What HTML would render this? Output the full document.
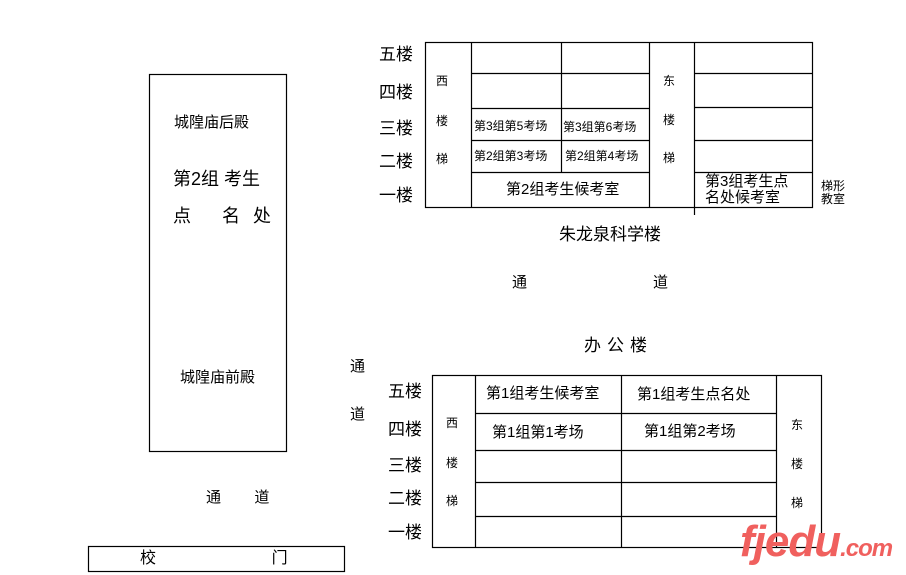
<!DOCTYPE html>
<html><head><meta charset="utf-8"><style>
body{margin:0;width:906px;height:575px;background:#fff;position:relative;overflow:hidden;font-family:"Liberation Sans","Noto Sans CJK SC",sans-serif;color:#000}
.t{position:absolute;white-space:nowrap;line-height:1}
svg{position:absolute;left:0;top:0}
</style></head><body>
<svg width="906" height="575" stroke="#000" stroke-width="1.2" fill="none">
<rect x="149.5" y="74.5" width="137" height="377"/>
<rect x="88.5" y="546.5" width="256" height="25"/>
<rect x="425.5" y="42.5" width="387" height="165"/>
<line x1="471.5" y1="42" x2="471.5" y2="207"/>
<line x1="561.5" y1="42" x2="561.5" y2="172"/>
<line x1="649.5" y1="42" x2="649.5" y2="207"/>
<line x1="694.5" y1="42" x2="694.5" y2="215"/>
<line x1="471" y1="73.5" x2="649" y2="73.5"/>
<line x1="471" y1="108.5" x2="649" y2="108.5"/>
<line x1="471" y1="140.5" x2="649" y2="140.5"/>
<line x1="471" y1="172.5" x2="649" y2="172.5"/>
<line x1="694" y1="73.5" x2="812" y2="73.5"/>
<line x1="694" y1="107.5" x2="812" y2="107.5"/>
<line x1="694" y1="140.5" x2="812" y2="140.5"/>
<line x1="694" y1="172.5" x2="812" y2="172.5"/>
<rect x="432.5" y="375.5" width="389" height="172"/>
<line x1="475.5" y1="375" x2="475.5" y2="547"/>
<line x1="621.5" y1="375" x2="621.5" y2="547"/>
<line x1="776.5" y1="375" x2="776.5" y2="547"/>
<line x1="475" y1="413.5" x2="776" y2="413.5"/>
<line x1="475" y1="450.5" x2="776" y2="450.5"/>
<line x1="475" y1="482.5" x2="776" y2="482.5"/>
<line x1="475" y1="516.5" x2="776" y2="516.5"/>
</svg>
<div class="t" style="left:174px;top:115px;font-size:15px">城隍庙后殿</div>
<div class="t" style="left:173px;top:170px;font-size:18px">第2组 考生</div>
<div class="t" style="left:173px;top:207px;font-size:18px;letter-spacing:4px">点&nbsp;&nbsp; 名 处</div>
<div class="t" style="left:180px;top:370px;font-size:15px">城隍庙前殿</div>
<div class="t" style="left:206px;top:490px;font-size:15px">通&nbsp;&nbsp;&nbsp;&nbsp;&nbsp;&nbsp;&nbsp; 道</div>
<div class="t" style="left:140px;top:551px;font-size:16px">校&nbsp;&nbsp;&nbsp;&nbsp;&nbsp;&nbsp;&nbsp;&nbsp;&nbsp;&nbsp;&nbsp;&nbsp;&nbsp;&nbsp;&nbsp;&nbsp;&nbsp;&nbsp;&nbsp;&nbsp;&nbsp;&nbsp;&nbsp;&nbsp;&nbsp; 门</div>
<div class="t" style="left:350px;top:359px;font-size:15px">通</div>
<div class="t" style="left:350px;top:407px;font-size:15px">道</div>
<div class="t" style="left:379px;top:46px;font-size:17px">五楼</div>
<div class="t" style="left:379px;top:84px;font-size:17px">四楼</div>
<div class="t" style="left:379px;top:120px;font-size:17px">三楼</div>
<div class="t" style="left:379px;top:153px;font-size:17px">二楼</div>
<div class="t" style="left:379px;top:187px;font-size:17px">一楼</div>
<div class="t" style="left:436px;top:75px;font-size:12px">西</div>
<div class="t" style="left:436px;top:115px;font-size:12px">楼</div>
<div class="t" style="left:436px;top:153px;font-size:12px">梯</div>
<div class="t" style="left:663px;top:75px;font-size:12px">东</div>
<div class="t" style="left:663px;top:114px;font-size:12px">楼</div>
<div class="t" style="left:663px;top:152px;font-size:12px">梯</div>
<div class="t" style="left:474px;top:120px;font-size:12px">第3组第5考场</div>
<div class="t" style="left:563px;top:121px;font-size:12px">第3组第6考场</div>
<div class="t" style="left:474px;top:150px;font-size:12px">第2组第3考场</div>
<div class="t" style="left:565px;top:150px;font-size:12px">第2组第4考场</div>
<div class="t" style="left:506px;top:182px;font-size:15px">第2组考生候考室</div>
<div class="t" style="left:705px;top:174px;font-size:15px;line-height:16px">第3组考生点<br>名处候考室</div>
<div class="t" style="left:821px;top:180px;font-size:12px;line-height:13px">梯形<br>教室</div>
<div class="t" style="left:559px;top:226px;font-size:17px">朱龙泉科学楼</div>
<div class="t" style="left:512px;top:275px;font-size:15px">通</div>
<div class="t" style="left:653px;top:275px;font-size:15px">道</div>
<div class="t" style="left:584px;top:337px;font-size:17px;letter-spacing:6px">办公楼</div>
<div class="t" style="left:388px;top:383px;font-size:17px">五楼</div>
<div class="t" style="left:388px;top:421px;font-size:17px">四楼</div>
<div class="t" style="left:388px;top:457px;font-size:17px">三楼</div>
<div class="t" style="left:388px;top:490px;font-size:17px">二楼</div>
<div class="t" style="left:388px;top:524px;font-size:17px">一楼</div>
<div class="t" style="left:446px;top:417px;font-size:12px">西</div>
<div class="t" style="left:446px;top:457px;font-size:12px">楼</div>
<div class="t" style="left:446px;top:495px;font-size:12px">梯</div>
<div class="t" style="left:791px;top:419px;font-size:12px">东</div>
<div class="t" style="left:791px;top:458px;font-size:12px">楼</div>
<div class="t" style="left:791px;top:497px;font-size:12px">梯</div>
<div class="t" style="left:486px;top:386px;font-size:15px">第1组考生候考室</div>
<div class="t" style="left:637px;top:387px;font-size:15px">第1组考生点名处</div>
<div class="t" style="left:492px;top:425px;font-size:15px">第1组第1考场</div>
<div class="t" style="left:644px;top:424px;font-size:15px">第1组第2考场</div>
<div class="t" style="left:740px;top:520px;font-size:44px;font-weight:bold;font-style:italic;color:#f0605e;letter-spacing:-1px">fjedu<span style="font-size:24px">.com</span></div>
</body></html>
